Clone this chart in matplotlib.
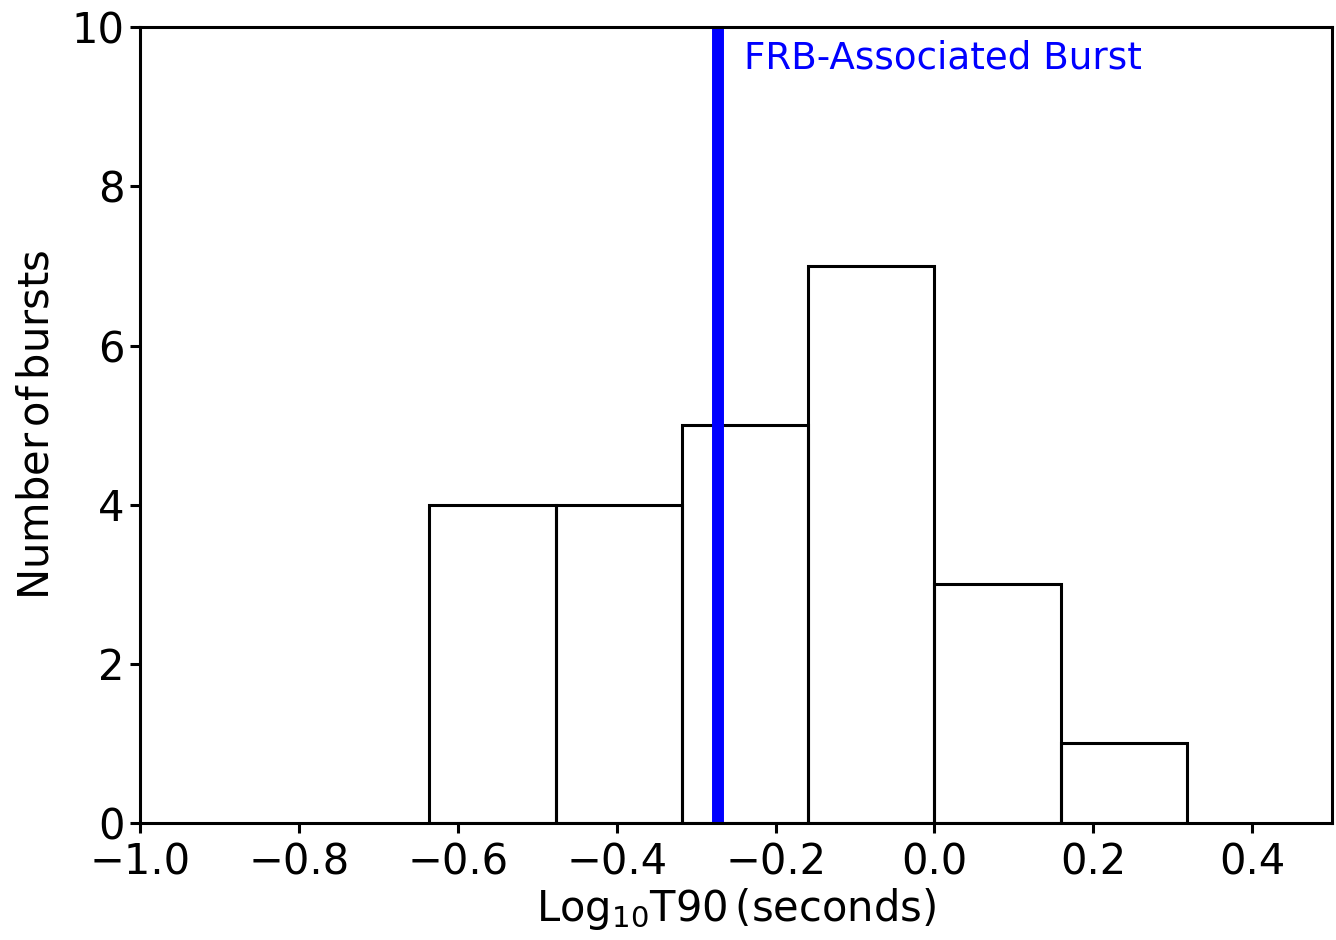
import matplotlib
matplotlib.use("Agg")
import matplotlib.pyplot as plt
import numpy as np

bin_edges = [-0.636, -0.477, -0.318, -0.159, 0.0, 0.159, 0.318]
counts = [4, 4, 5, 7, 3, 1]
frb_t90 = -0.272
frb_label = "FRB-Associated Burst"

plt.rcParams['mathtext.fontset'] = 'dejavusans'
fig = plt.figure(figsize=(13.36, 9.4), dpi=100)
ax = fig.add_axes([0.1048, 0.1245, 0.892, 0.8465])

edges = np.array(bin_edges)
ax.bar(edges[:-1], counts, width=np.diff(edges), align='edge', fill=False,
       edgecolor='black', linewidth=2.2)
ax.axvline(frb_t90, color='blue', linewidth=8.6)
ax.text(-0.24, 9.85, frb_label, color='blue', fontsize=26.8, va='top', ha='left')

ax.set_xlim(-1.0, 0.5)
ax.set_ylim(0, 10)
ax.set_xticks([-1.0, -0.8, -0.6, -0.4, -0.2, 0.0, 0.2, 0.4])
ax.set_yticks([0, 2, 4, 6, 8, 10])
ax.tick_params(labelsize=30, width=2.2, length=7)
ax.tick_params(axis='x', pad=6.5)
ax.tick_params(axis='y', pad=4)
for s in ax.spines.values():
    s.set_linewidth(2.2)
ax.set_xlabel(r'$\mathrm{Log_{10}T90\,(seconds)}$', fontsize=30, labelpad=2)
ax.set_ylabel(r'$\mathrm{Number\,of\,bursts}$', fontsize=30, labelpad=10)

fig.savefig('out.png', dpi=100)
